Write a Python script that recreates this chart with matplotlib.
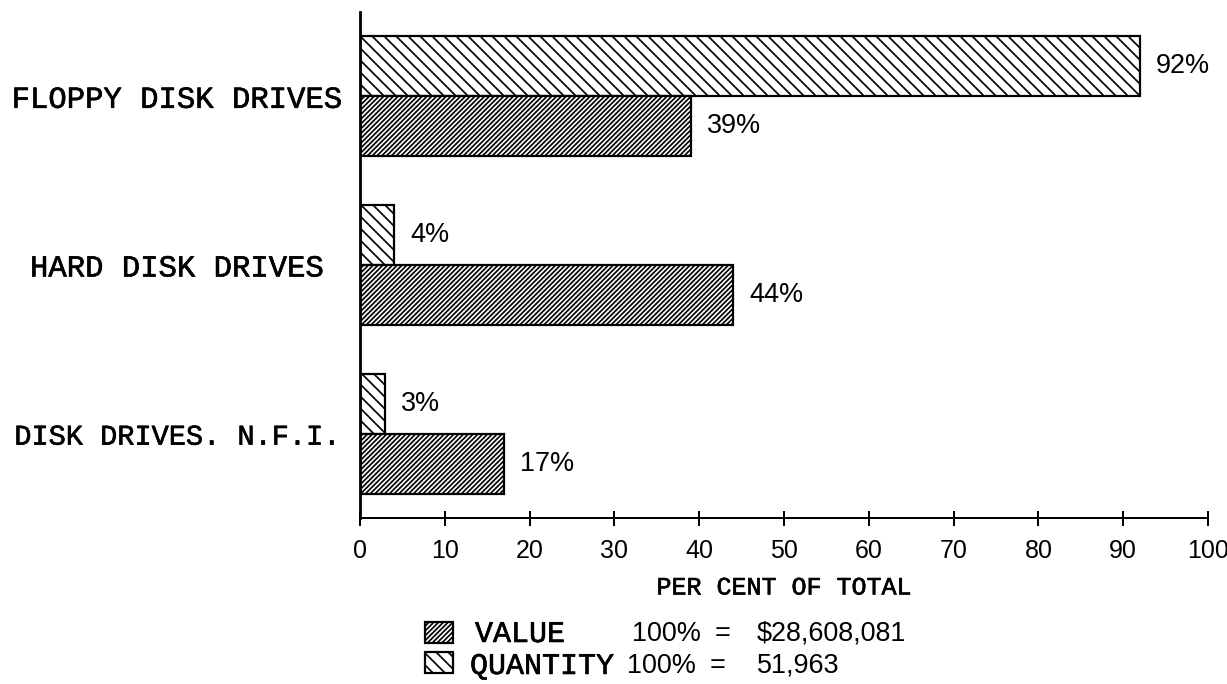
import matplotlib
matplotlib.use("Agg")
import matplotlib.pyplot as plt
import matplotlib.patheffects as pe
from matplotlib.patches import Rectangle
import numpy as np

categories = ["FLOPPY DISK DRIVES", "HARD DISK DRIVES", "DISK DRIVES. N.F.I."]
quantity_pct = [92, 4, 3]
value_pct = [39, 44, 17]
xticks = [0, 10, 20, 30, 40, 50, 60, 70, 80, 90, 100]
xlabel = "PER CENT OF TOTAL"
legend_rows = [
    ("VALUE", "100%", "=", "$28,608,081"),
    ("QUANTITY", "100%", "=", "51,963"),
]

W, H, DPI = 1227, 684, 144
plt.rcParams["hatch.linewidth"] = 0.85
plt.rcParams["hatch.color"] = "black"

MONO = "Liberation Mono"
SANS = "Liberation Sans"
thick = [pe.withStroke(linewidth=0.3, foreground="black")]

fig = plt.figure(figsize=(W / DPI, H / DPI), dpi=DPI)
ax = fig.add_axes([360 / W, (H - 518) / H, 848 / W, 506 / H])

ypos = np.arange(len(categories))[::-1]  # top to bottom
bh = 0.355
q_hatch = "\\" * 4
v_hatch = "/" * 10

ax.barh(ypos + bh / 2, quantity_pct, height=bh, color="white", edgecolor="black",
        linewidth=1.1, hatch=q_hatch)
ax.barh(ypos - bh / 2, value_pct, height=bh, color="white", edgecolor="black",
        linewidth=1.1, hatch=v_hatch)

for y, q, v in zip(ypos, quantity_pct, value_pct):
    ax.annotate(f"{q}%", (q, y + bh / 2), xytext=(8, 0), textcoords="offset points",
                va="center", ha="left", fontsize=13.5, family=SANS)
    ax.annotate(f"{v}%", (v, y - bh / 2), xytext=(8, 0), textcoords="offset points",
                va="center", ha="left", fontsize=13.5, family=SANS)

ax.set_xlim(0, 100)
ax.set_ylim(-0.5, 2.5)
ax.set_xticks(xticks)
ax.set_xticklabels([str(t) for t in xticks], family=SANS, fontsize=12.5)
ax.tick_params(axis="x", direction="inout", length=7.5, width=1.0, pad=7)
ax.set_yticks(ypos)
ax.set_yticklabels(categories, family=MONO, fontsize=15.3, ha="center")
ax.tick_params(axis="y", length=0, pad=91.5)
label_sizes = [15.3, 15.3, 14.3]
for lbl, fs in zip(ax.get_yticklabels(), label_sizes):
    lbl.set_fontsize(fs)
    lbl.set_path_effects(thick)

for s in ["top", "right"]:
    ax.spines[s].set_visible(False)
ax.spines["left"].set_linewidth(1.4)
ax.spines["bottom"].set_linewidth(1.0)

xl = ax.set_xlabel(xlabel, family=MONO, fontsize=12.5, labelpad=6)
xl.set_path_effects(thick)


def fx(px):
    return px / W


def fy(py):
    return 1 - py / H


# legend
box_rows = [(622, v_hatch), (652, q_hatch)]
for (top, hatch) in box_rows:
    r = Rectangle((fx(425), fy(top + 21)), 28 / W, 21 / H, transform=fig.transFigure,
                  facecolor="white", edgecolor="black", linewidth=1.1, hatch=hatch)
    fig.patches.append(r)

row_y = [634, 666]
word_x = [475, 470]
pct_x = [632, 627]
eq_x = [715, 710]
num_x = [757, 757]
for i, (word, pct, eq, num) in enumerate(legend_rows):
    yy = fy(row_y[i])
    fig.text(fx(word_x[i]), yy, word, family=MONO, fontsize=15.0, va="center", ha="left",
             path_effects=thick)
    fig.text(fx(pct_x[i]), yy, pct, family=SANS, fontsize=13.5, va="center", ha="left")
    fig.text(fx(eq_x[i]), yy, eq, family=SANS, fontsize=13.5, va="center", ha="left")
    fig.text(fx(num_x[i]), yy, num, family=SANS, fontsize=13.5, va="center", ha="left")

fig.savefig("out.png", dpi=DPI)
